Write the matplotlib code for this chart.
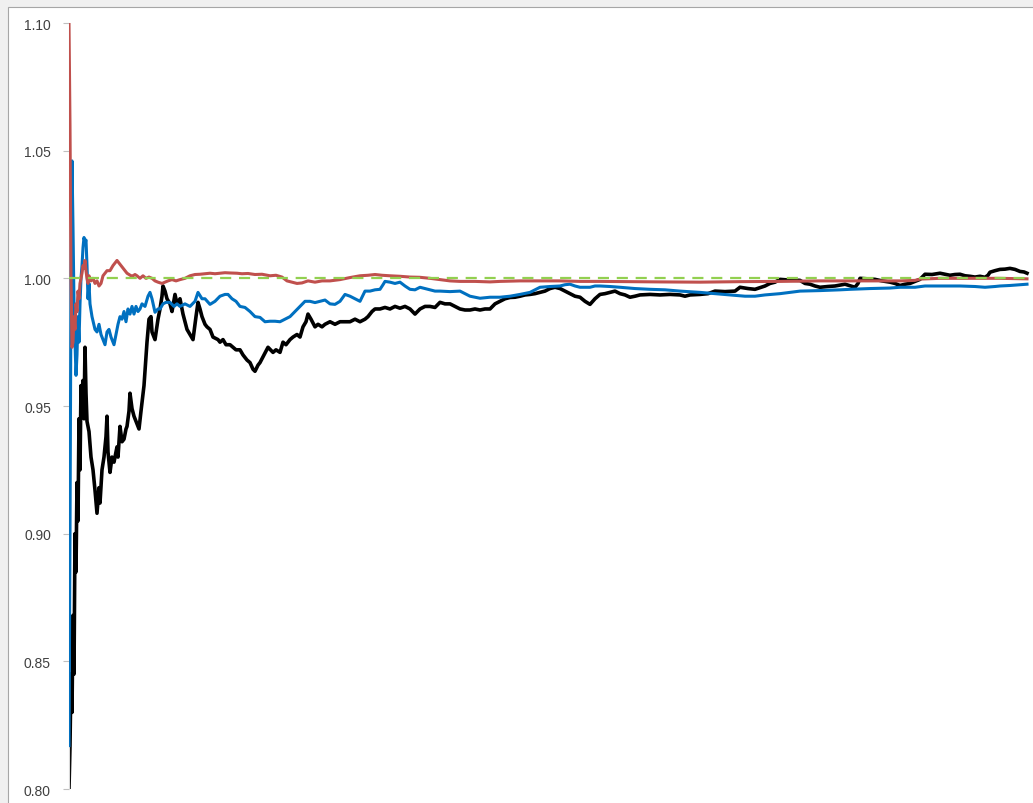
import matplotlib
matplotlib.use("Agg")
import matplotlib.pyplot as plt
import numpy as np
from matplotlib.patches import Rectangle

# running ratio for three estimators vs trial number
black_n = [0, 1, 2, 3, 4, 5, 6, 7, 8, 9, 10, 11, 12, 13, 14, 15, 16, 17, 18, 20, 22, 24, 26, 28, 30, 31,
           33, 35, 37, 38, 39, 41, 43, 45, 48, 49, 51, 53, 55, 57, 58, 60, 61, 63, 65, 68, 70, 72, 75, 78,
           80, 82, 83, 86, 89, 91, 93, 94, 96, 98, 101, 103, 106, 108, 111, 114, 118, 121, 124, 127, 129,
           131, 133, 136, 138, 141, 144, 149, 151, 154, 157, 161, 164, 167, 171, 174, 178, 181, 184, 186,
           189, 191, 195, 199, 204, 207, 211, 214, 217, 221, 224, 228, 231, 234, 237, 239, 242, 246, 249,
           253, 256, 261, 266, 271, 276, 281, 286, 291, 296, 299, 303, 306, 311, 316, 321, 326, 331, 336,
           341, 346, 351, 356, 361, 366, 371, 376, 381, 386, 391, 396, 401, 406, 411, 416, 421, 426, 431,
           436, 441, 446, 451, 456, 461, 466, 471, 476, 481, 486, 491, 496, 501, 506, 511, 516, 521, 526,
           531, 536, 541, 546, 551, 556, 561, 566, 571, 581, 591, 601, 611, 616, 621, 631, 639, 646, 656,
           666, 671, 679, 686, 696, 701, 706, 711, 721, 731, 736, 741, 746, 751, 759, 766, 776, 786, 789,
           791, 799, 806, 813, 821, 826, 831, 836, 841, 846, 851, 854, 856, 863, 871, 876, 881, 886, 891,
           896, 901, 906, 911, 916, 919, 921, 926, 931, 936, 941, 946, 951, 955, 958]
black_v = [0.800, 0.817, 0.845, 0.830, 0.868, 0.845, 0.900, 0.885, 0.920, 0.905, 0.945, 0.925, 0.958,
           0.950, 0.960, 0.945, 0.973, 0.955, 0.944, 0.940, 0.930, 0.925, 0.917, 0.908, 0.918, 0.912,
           0.925, 0.930, 0.938, 0.946, 0.932, 0.924, 0.930, 0.928, 0.934, 0.930, 0.942, 0.936, 0.937,
           0.941, 0.942, 0.948, 0.955, 0.949, 0.946, 0.943, 0.941, 0.948, 0.958, 0.975, 0.984, 0.985,
           0.979, 0.976, 0.984, 0.988, 0.993, 0.997, 0.995, 0.992, 0.990, 0.987, 0.9937, 0.990, 0.992,
           0.986, 0.980, 0.978, 0.976, 0.985, 0.9906, 0.988, 0.985, 0.982, 0.981, 0.980, 0.977, 0.976,
           0.975, 0.976, 0.974, 0.974, 0.973, 0.972, 0.972, 0.970, 0.968, 0.967, 0.9644, 0.9636, 0.966,
           0.967, 0.970, 0.973, 0.971, 0.972, 0.971, 0.975, 0.974, 0.976, 0.977, 0.978, 0.977, 0.981,
           0.983, 0.986, 0.984, 0.981, 0.982, 0.981, 0.982, 0.983, 0.982, 0.983, 0.983, 0.983, 0.984,
           0.983, 0.984, 0.985, 0.987, 0.988, 0.988, 0.9886, 0.988, 0.989, 0.9883, 0.989, 0.988, 0.986,
           0.988, 0.989, 0.989, 0.9886, 0.9906, 0.990, 0.990, 0.989, 0.988, 0.9876, 0.9876, 0.988,
           0.9876, 0.988, 0.988, 0.990, 0.991, 0.992, 0.9925, 0.9926, 0.993, 0.9935, 0.9937, 0.994,
           0.9945, 0.995, 0.996, 0.9965, 0.996, 0.995, 0.994, 0.993, 0.9926, 0.991, 0.9898, 0.992,
           0.9937, 0.994, 0.9945, 0.995, 0.994, 0.9935, 0.9926, 0.993, 0.9935, 0.9937, 0.9935, 0.9937,
           0.9935, 0.993, 0.9935, 0.9937, 0.994, 0.995, 0.9948, 0.995, 0.9965, 0.996, 0.9957, 0.997,
           0.998, 0.9985, 0.9996, 0.9993, 0.9992, 0.998, 0.9977, 0.997, 0.9965, 0.9968, 0.997, 0.9977,
           0.9965, 0.998, 1.000, 0.9998, 0.9996, 0.999, 0.9985, 0.998, 0.9972, 0.9977, 0.998, 0.9988,
           0.9996, 1.0008, 1.0016, 1.0015, 1.002, 1.0016, 1.0012, 1.0015, 1.0016, 1.001, 1.0008, 1.0005,
           1.0008, 1.0004, 1.0012, 1.0024, 1.003, 1.0035, 1.0036, 1.0039, 1.0035, 1.0027, 1.0025, 1.002]

blue_n = [0, 1, 2, 3, 4, 5, 6, 7, 8, 9, 10, 11, 12, 13, 14, 15, 16, 17, 18, 19, 20, 21, 23, 26, 28, 30,
          32, 34, 36, 38, 40, 42, 45, 47, 49, 51, 53, 55, 57, 59, 61, 63, 65, 67, 69, 71, 73, 76, 79, 81,
          83, 86, 89, 91, 94, 97, 101, 105, 108, 111, 116, 121, 126, 129, 133, 136, 141, 146, 151, 156,
          159, 163, 167, 171, 176, 181, 186, 191, 196, 201, 206, 211, 216, 221, 226, 231, 236, 241, 246,
          251, 256, 261, 266, 271, 276, 281, 286, 291, 296, 301, 306, 311, 314, 316, 321, 326, 331, 336,
          341, 346, 351, 356, 361, 366, 371, 381, 391, 396, 401, 406, 411, 421, 431, 441, 451, 461, 471,
          481, 491, 496, 501, 506, 511, 521, 526, 531, 541, 551, 566, 581, 596, 611, 631, 646, 661, 676,
          686, 696, 711, 731, 751, 771, 781, 801, 821, 831, 846, 856, 871, 891, 906, 916, 926, 931, 941,
          951, 958]
blue_v = [0.817, 0.900, 1.000, 1.046, 1.020, 0.990, 0.975, 0.962, 0.970, 0.985, 0.975, 0.990, 1.000,
          1.005, 1.012, 1.016, 1.014, 1.015, 1.005, 0.992, 0.998, 0.990, 0.985, 0.980, 0.979, 0.982,
          0.978, 0.976, 0.974, 0.979, 0.980, 0.977, 0.974, 0.978, 0.982, 0.985, 0.984, 0.987, 0.983,
          0.988, 0.986, 0.989, 0.986, 0.989, 0.987, 0.988, 0.990, 0.989, 0.993, 0.9945, 0.992, 0.9867,
          0.988, 0.988, 0.990, 0.9906, 0.9906, 0.989, 0.990, 0.989, 0.990, 0.989, 0.991, 0.9945, 0.992,
          0.992, 0.9898, 0.991, 0.993, 0.9937, 0.9937, 0.992, 0.991, 0.989, 0.9886, 0.987, 0.985,
          0.9847, 0.983, 0.9832, 0.9832, 0.983, 0.984, 0.985, 0.987, 0.989, 0.991, 0.991, 0.9905,
          0.991, 0.9915, 0.990, 0.9898, 0.991, 0.9937, 0.993, 0.992, 0.991, 0.995, 0.995, 0.9955,
          0.9957, 0.9975, 0.9988, 0.9985, 0.998, 0.9985, 0.997, 0.9957, 0.9955, 0.9965, 0.996, 0.9955,
          0.995, 0.995, 0.9948, 0.995, 0.994, 0.993, 0.9926, 0.9922, 0.9926, 0.9926, 0.993, 0.9937,
          0.9945, 0.9965, 0.9968, 0.997, 0.9975, 0.9977, 0.997, 0.9965, 0.9965, 0.997, 0.997, 0.9968,
          0.9965, 0.996, 0.9957, 0.9955, 0.995, 0.9945, 0.994, 0.9935, 0.993, 0.993, 0.9935, 0.994,
          0.995, 0.9952, 0.9955, 0.9957, 0.996, 0.9962, 0.9965, 0.9965, 0.997, 0.997, 0.997, 0.9968,
          0.9965, 0.9968, 0.997, 0.9972, 0.9975, 0.9977]

red_n = [0, 1, 2, 3, 4, 5, 6, 7, 8, 9, 10, 11, 12, 13, 14, 15, 16, 17, 18, 19, 20, 22, 24, 26, 28, 30, 32,
         34, 36, 38, 41, 44, 46, 48, 50, 52, 54, 56, 58, 60, 62, 64, 66, 68, 71, 74, 77, 80, 83, 86, 89,
         93, 96, 99, 103, 107, 111, 116, 121, 126, 131, 136, 141, 146, 151, 156, 161, 168, 173, 179, 186,
         193, 201, 207, 213, 218, 223, 228, 233, 239, 246, 253, 261, 271, 281, 291, 299, 306, 313, 321,
         331, 341, 351, 361, 371, 381, 391, 406, 421, 431, 451, 471, 491, 511, 531, 561, 591, 631, 671,
         711, 751, 791, 831, 846, 851, 871, 901, 931, 958]
red_v = [1.100, 1.060, 1.000, 0.973, 0.975, 0.985, 0.980, 0.990, 0.987, 0.995, 0.992, 0.998, 1.000, 1.002,
         1.005, 1.004, 1.007, 1.003, 1.000, 0.998, 1.001, 0.999, 1.000, 0.998, 0.999, 0.997, 0.998, 1.001,
         1.002, 1.003, 1.003, 1.005, 1.006, 1.007, 1.006, 1.005, 1.004, 1.003, 1.002, 1.0015, 1.001,
         1.001, 1.0015, 1.001, 1.000, 1.001, 1.000, 1.0005, 1.000, 0.999, 0.9985, 0.998, 0.9985, 0.999,
         0.9995, 0.999, 0.9995, 1.000, 1.001, 1.0015, 1.0016, 1.0018, 1.002, 1.0018, 1.002, 1.0022,
         1.0021, 1.002, 1.0018, 1.0019, 1.0015, 1.0016, 1.001, 1.0012, 1.0005, 0.999, 0.9985, 0.998,
         0.9982, 0.999, 0.9985, 0.999, 0.999, 0.9995, 1.0003, 1.001, 1.0012, 1.0015, 1.0012, 1.001,
         1.0008, 1.0005, 1.0004, 1.000, 0.9995, 0.999, 0.9988, 0.9988, 0.9986, 0.9988, 0.999, 0.999,
         0.999, 0.9988, 0.9988, 0.9987, 0.9986, 0.9985, 0.9987, 0.9988, 0.999, 0.999, 0.999, 0.9992,
         0.9997, 1.000, 1.000, 1.000, 0.9998]

target = 1.0
n_last = 958
yticks = [0.80, 0.85, 0.90, 0.95, 1.00, 1.05, 1.10]

W, H = 1033, 804
fig = plt.figure(figsize=(W / 100, H / 100), dpi=100, facecolor="#f0f0f0")
# chart area frame (excel style), cut off on right/bottom
frame = Rectangle((8 / W, -0.01), 1.02, 1.01 - 8 / H, transform=fig.transFigure,
                  facecolor="white", edgecolor="#a6a6a6", linewidth=0.8)
fig.patches.append(frame)

ax = fig.add_axes([69 / W, 14 / H, (W - 69) / W, (790 - 24) / H])
ax.set_zorder(2)
ax.set_facecolor("none")

ax.plot(black_n, black_v, color="black", lw=2.6, solid_joinstyle="round", zorder=2)
ax.plot(blue_n, blue_v, color="#0070c0", lw=2.2, solid_joinstyle="round", zorder=3)
ax.plot(red_n, red_v, color="#c0504d", lw=2.2, solid_joinstyle="round", zorder=4)
ax.plot([0, n_last], [target, target], color="#92d050", lw=1.6, dashes=(5, 3.5), zorder=5)

ax.set_xlim(0, 964)
ax.set_ylim(0.80, 1.10)
ax.set_yticks(yticks)
ax.set_yticklabels([f"{t:.2f}" for t in yticks])
ax.set_xticks([])

for s in ["top", "right", "bottom"]:
    ax.spines[s].set_visible(False)
ax.spines["left"].set_color("#d9d9d9")
ax.spines["left"].set_linewidth(0.8)
ax.tick_params(axis="y", length=4, width=0.8, color="#bfbfbf", pad=9,
               labelsize=10, labelcolor="#404040")
for lab in ax.get_yticklabels():
    lab.set_family(["Liberation Sans", "DejaVu Sans"])

fig.savefig("out.png", dpi=100, facecolor=fig.get_facecolor())
